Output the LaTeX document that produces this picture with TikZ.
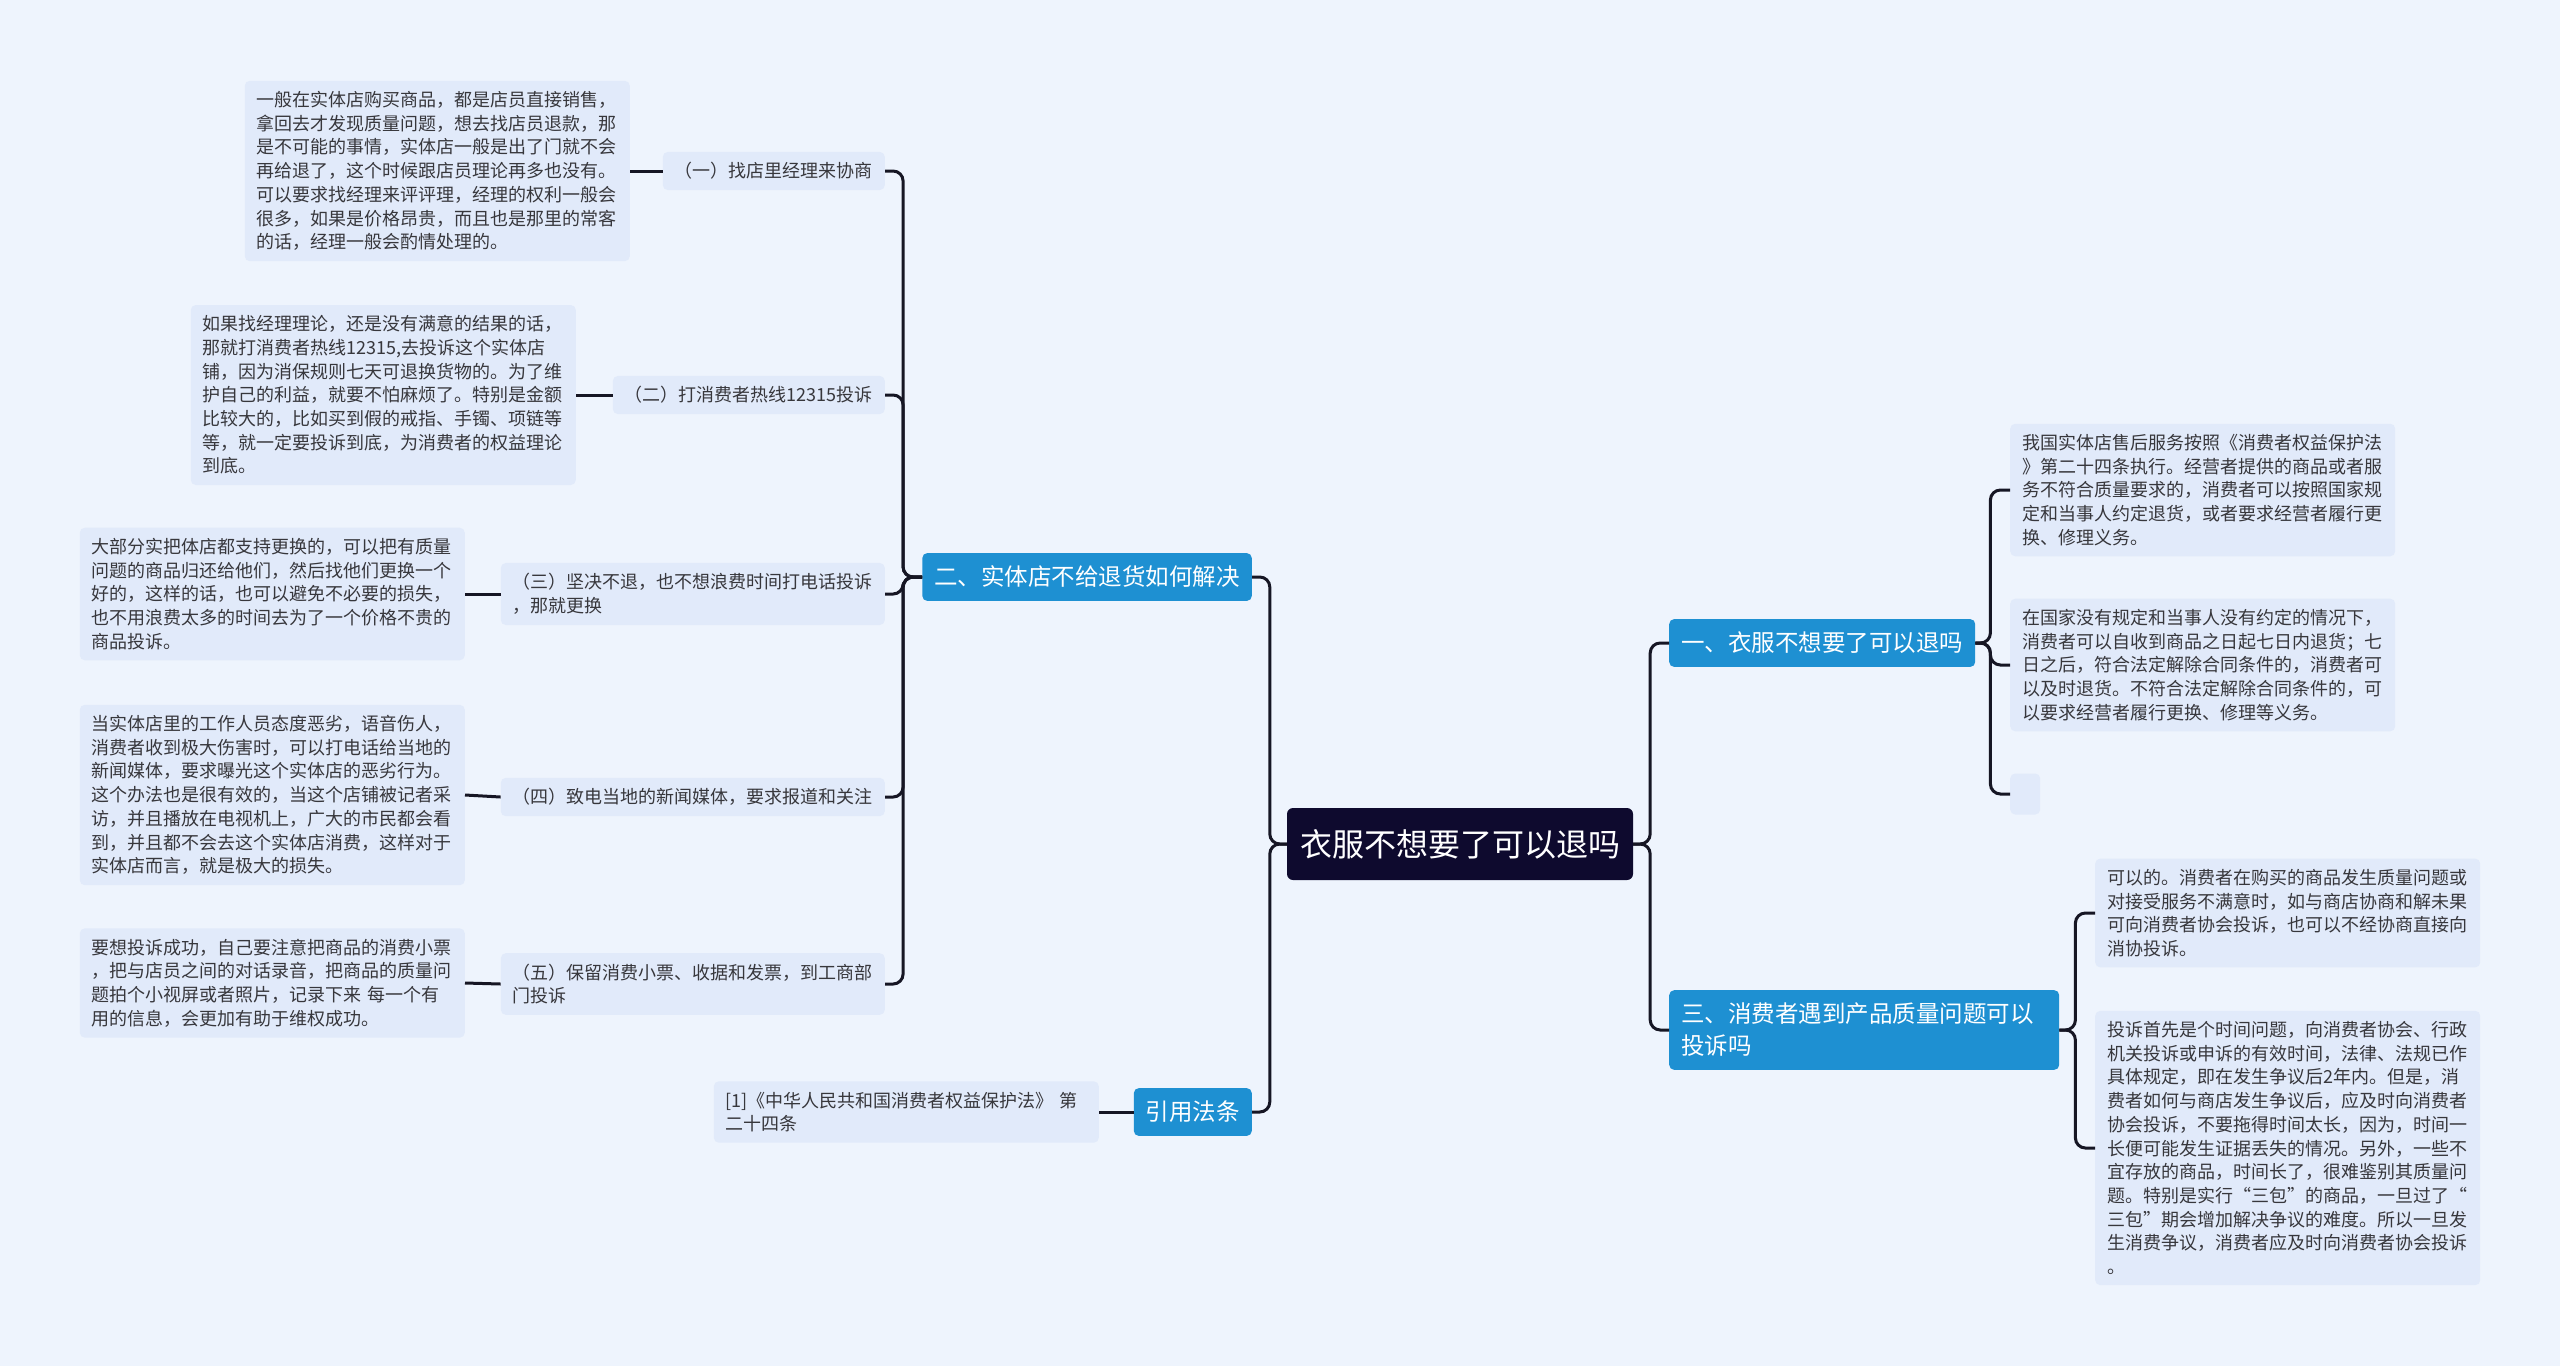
\documentclass[tikz,border=0pt]{standalone}
\usepackage{fontspec}
\newfontfamily\cjk{Noto Sans CJK SC}
\definecolor{bgblue}{RGB}{238,244,253}
\definecolor{notefill}{RGB}{225,234,250}
\definecolor{mainblue}{RGB}{30,144,210}
\definecolor{rootnavy}{RGB}{14,10,46}
\definecolor{linedark}{RGB}{22,22,36}
\definecolor{textgrey}{RGB}{55,55,60}
\begin{document}
\begin{tikzpicture}[x=1pt, y=-1pt,
    link/.style={line width=3pt, draw=linedark, rounded corners=10pt},
    rootbox/.style={fill=rootnavy, text=white, rounded corners=6pt, inner sep=0pt, minimum width=346pt, minimum height=72pt, font=\cjk\fontsize{32}{40}\selectfont},
    branch/.style={fill=mainblue, text=white, rounded corners=5pt, inner xsep=12pt, inner ysep=13pt, align=left, font=\cjk\fontsize{23.5}{32}\selectfont},
    topic/.style={fill=notefill, text=textgrey, rounded corners=5pt, inner xsep=12pt, inner ysep=10.5pt, align=left, font=\cjk\fontsize{18}{23.7}\selectfont},
    note/.style={topic, text width=361pt}]
    % Background
    \fill[bgblue] (0,0) rectangle (2560,1366);
    \useasboundingbox (0,0) rectangle (2560,1366);

    % Root
    \node[rootbox] (root) at (1460,844) {衣服不想要了可以退吗};

    % Left side
    \node[branch, anchor=east] (b2) at (1252,577) {二、实体店不给退货如何解决};
    \node[branch, anchor=east] (cite) at (1252,1112) {引用法条};

    \node[topic, anchor=east] (s1) at (885,171) {（一）找店里经理来协商};
    \node[topic, anchor=east] (s2) at (885,395) {（二）打消费者热线12315投诉};
    \node[topic, anchor=east] (s3) at (885,594) {（三）坚决不退，也不想浪费时间打电话投诉\\，那就更换};
    \node[topic, anchor=east] (s4) at (885,797) {（四）致电当地的新闻媒体，要求报道和关注};
    \node[topic, anchor=east] (s5) at (885,984) {（五）保留消费小票、收据和发票，到工商部\\门投诉};

    \node[note, anchor=east] (d1) at (630,171) {一般在实体店购买商品，都是店员直接销售，\\拿回去才发现质量问题，想去找店员退款，那\\是不可能的事情，实体店一般是出了门就不会\\再给退了，这个时候跟店员理论再多也没有。\\可以要求找经理来评评理，经理的权利一般会\\很多，如果是价格昂贵，而且也是那里的常客\\的话，经理一般会酌情处理的。};
    \node[note, anchor=east] (d2) at (576,395) {如果找经理理论，还是没有满意的结果的话，\\那就打消费者热线12315,去投诉这个实体店\\铺，因为消保规则七天可退换货物的。为了维\\护自己的利益，就要不怕麻烦了。特别是金额\\比较大的，比如买到假的戒指、手镯、项链等\\等，就一定要投诉到底，为消费者的权益理论\\到底。};
    \node[note, anchor=east] (d3) at (465,594) {大部分实把体店都支持更换的，可以把有质量\\问题的商品归还给他们，然后找他们更换一个\\好的，这样的话，也可以避免不必要的损失，\\也不用浪费太多的时间去为了一个价格不贵的\\商品投诉。};
    \node[note, anchor=east] (d4) at (465,795) {当实体店里的工作人员态度恶劣，语音伤人，\\消费者收到极大伤害时，可以打电话给当地的\\新闻媒体，要求曝光这个实体店的恶劣行为。\\这个办法也是很有效的，当这个店铺被记者采\\访，并且播放在电视机上，广大的市民都会看\\到，并且都不会去这个实体店消费，这样对于\\实体店而言，就是极大的损失。};
    \node[note, anchor=east] (d5) at (465,983) {要想投诉成功，自己要注意把商品的消费小票\\，把与店员之间的对话录音，把商品的质量问\\题拍个小视屏或者照片，记录下来 每一个有\\用的信息，会更加有助于维权成功。};
    \node[note, anchor=east] (law) at (1099,1112) {[1]《中华人民共和国消费者权益保护法》 第\\二十四条};

    % Right side
    \node[branch, anchor=west] (b1) at (1669,643) {一、衣服不想要了可以退吗};
    \node[branch, anchor=west, text width=366pt] (b3) at (1669,1030) {三、消费者遇到产品质量问题可以\\投诉吗};

    \node[note, anchor=west] (r1) at (2010,490) {我国实体店售后服务按照《消费者权益保护法\\》第二十四条执行。经营者提供的商品或者服\\务不符合质量要求的，消费者可以按照国家规\\定和当事人约定退货，或者要求经营者履行更\\换、修理义务。};
    \node[note, anchor=west] (r2) at (2010,665) {在国家没有规定和当事人没有约定的情况下，\\消费者可以自收到商品之日起七日内退货；七\\日之后，符合法定解除合同条件的，消费者可\\以及时退货。不符合法定解除合同条件的，可\\以要求经营者履行更换、修理等义务。};
    \node[topic, anchor=west, inner sep=0pt, minimum width=30pt, minimum height=41pt] (r3) at (2010,794) {};
    \node[note, anchor=west] (r4) at (2095,913) {可以的。消费者在购买的商品发生质量问题或\\对接受服务不满意时，如与商店协商和解未果\\可向消费者协会投诉，也可以不经协商直接向\\消协投诉。};
    \node[note, anchor=west] (r5) at (2095,1148) {投诉首先是个时间问题，向消费者协会、行政\\机关投诉或申诉的有效时间，法律、法规已作\\具体规定，即在发生争议后2年内。但是，消\\费者如何与商店发生争议后，应及时向消费者\\协会投诉，不要拖得时间太长，因为，时间一\\长便可能发生证据丢失的情况。另外，一些不\\宜存放的商品，时间长了，很难鉴别其质量问\\题。特别是实行“三包”的商品，一旦过了“\\三包”期会增加解决争议的难度。所以一旦发\\生消费争议，消费者应及时向消费者协会投诉\\。};

    % Connectors
    \draw[link] (root.west) -- ++(-17,0) |- (b2.east);
    \draw[link] (root.west) -- ++(-17,0) |- (cite.east);
    \draw[link] (root.east) -- ++(17,0) |- (b1.west);
    \draw[link] (root.east) -- ++(17,0) |- (b3.west);

    \foreach \s in {s1,s2,s3,s4,s5}
        \draw[link] (b2.west) -- ++(-19,0) |- (\s.east);
    \foreach \s/\d in {s1/d1,s2/d2,s3/d3,s4/d4,s5/d5}
        \draw[link] (\s.west) -- (\d.east);
    \draw[link] (cite.west) -- (law.east);

    \foreach \r in {r1,r2,r3}
        \draw[link] (b1.east) -- ++(15,0) |- (\r.west);
    \foreach \r in {r4,r5}
        \draw[link] (b3.east) -- ++(16,0) |- (\r.west);
\end{tikzpicture}
\end{document}
